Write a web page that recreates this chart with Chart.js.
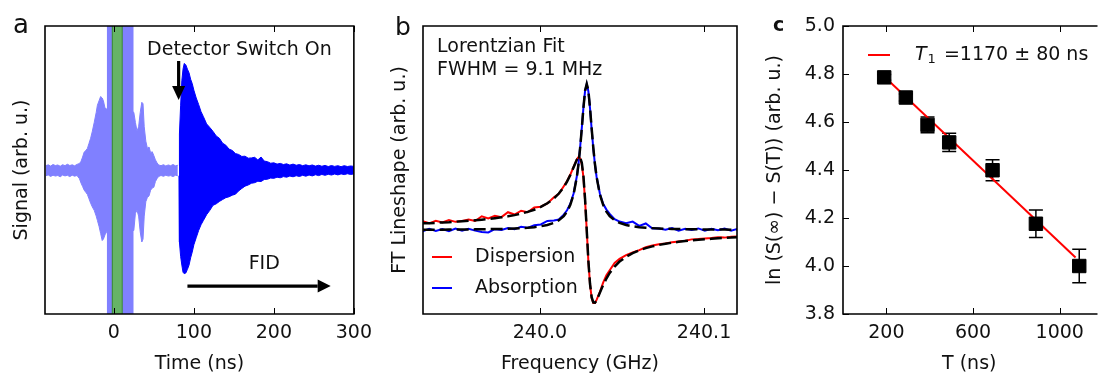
<!DOCTYPE html>
<html>
<head>
<meta charset="utf-8">
<script src="https://cdn.jsdelivr.net/npm/chart.js@4.4.1/dist/chart.umd.min.js"></script>
<style>
html, body { margin: 0; padding: 0; background: #fff; }
body { width: 1106px; height: 376px; position: relative; overflow: hidden; }
canvas { position: absolute; top: 0; }
#ca { left: 0; }
#cb { left: 372px; }
#cc { left: 748px; }
</style>
</head>
<body>
<canvas id="ca" width="380" height="376"></canvas>
<canvas id="cb" width="372" height="376"></canvas>
<canvas id="cc" width="358" height="376"></canvas>
<script>
// ---- panel a: time-domain signal (envelopes, arb. units)
const pulseT = [-85,-82,-79,-76,-73,-70,-67,-64,-61,-58,
  -55,-52,-49,-46,-43,-41,-39,-37,-35,-33,
  -31,-29,-27,-24.5,-22,-20.5,-18.5,-16.5,-14.5,-13,
  -11,-8,0,10,20,25,27,29,31,33,
  35,36.5,38,40,42,44,46,48,50,52,
  54,56,59,62,65,68,71,74,77,80];
const pulseUp = [.030,.036,.027,.038,.031,.035,.026,.037,.030,.040,
  .031,.036,.029,.039,.045,.060,.090,.125,.135,.150,
  .185,.220,.265,.330,.400,.450,.480,.510,.500,.480,
  .430,.420,.420,.420,.420,.400,.330,.270,.300,.400,
  .470,.460,.300,.200,.150,.160,.120,.127,.100,.070,
  .050,.035,.030,.037,.028,.035,.030,.038,.029,.033];
const pulseLo = [-.040,-.034,-.045,-.036,-.042,-.038,-.047,-.035,-.041,-.037,
  -.046,-.036,-.043,-.038,-.060,-.090,-.115,-.140,-.155,-.170,
  -.200,-.230,-.255,-.280,-.320,-.350,-.390,-.440,-.490,-.480,
  -.450,-.420,-.420,-.420,-.420,-.420,-.300,-.280,-.320,-.430,
  -.500,-.480,-.320,-.220,-.190,-.180,-.140,-.125,-.120,-.080,
  -.060,-.045,-.038,-.044,-.036,-.042,-.039,-.046,-.037,-.040];

const fidT = [81.5,82,83.5,85,86.5,88,90,92,94,96,
  98,100,103,106,109,112,116,120,
  124,128,132,136,140,144,148,152,156,160,
  164,168,172,176,180,184,188,192,196,200,
  204,208,212,216,220,224,228,232,236,240,
  244,248,252,256,260,264,268,272,276,280,
  284,288,292,296,300];
const fidUp = [.030,.250,.450,.620,.700,.740,.730,.700,.675,.630,
  .600,.555,.500,.455,.405,.370,.320,.295,
  .268,.236,.220,.186,.172,.145,.136,.114,.108,.094,
  .096,.082,.084,.088,.070,.090,.062,.058,.047,.050,
  .041,.046,.038,.043,.034,.041,.033,.038,.030,.036,
  .029,.035,.027,.033,.026,.032,.024,.031,.025,.030,
  .023,.030,.024,.028,.025];
const fidLo = [-.040,-.500,-.600,-.660,-.710,-.720,-.715,-.690,-.660,-.610,
  -.570,-.520,-.470,-.420,-.380,-.350,-.310,-.280,
  -.245,-.235,-.218,-.205,-.192,-.186,-.175,-.168,-.145,-.128,
  -.112,-.104,-.092,-.088,-.078,-.080,-.066,-.064,-.056,-.058,
  -.050,-.054,-.046,-.050,-.042,-.047,-.040,-.045,-.037,-.043,
  -.035,-.041,-.033,-.039,-.031,-.037,-.030,-.035,-.028,-.034,
  -.027,-.032,-.026,-.031,-.027];

const probeWindow = [-8.6, 24.6];   // ns
const pumpWindow = [-2.5, 11.1];    // ns
const timeTicks = [0, 100, 200, 300];

// ---- panel b: FT lineshape
const freqGHz = [239.9285,239.9325,239.9365,239.9405,239.9445,239.9485,239.9525,239.9565,239.9605,239.9645,
  239.9685,239.9725,239.9765,239.9805,239.9845,239.9885,239.9925,239.9965,240.0005,240.0045,
  240.0085,240.0115,240.0145,240.0165,240.0185,240.0205,240.0225,240.0235,240.0245,240.0255,
  240.0265,240.0275,240.0285,240.0295,240.0305,240.0315,240.0325,240.0335,240.0345,240.0365,
  240.0385,240.0405,240.0425,240.0455,240.0485,240.0525,240.0565,240.0605,240.0645,240.0685,
  240.0725,240.0765,240.0805,240.0845,240.0885,240.0925,240.0965,240.1005,240.1045,240.1085,
  240.1125,240.1165,240.1205];
const dispersion = [.060,.046,.064,.052,.068,.056,.062,.072,.062,.094,
  .080,.098,.088,.122,.106,.132,.122,.154,.160,.182,
  .225,.248,.300,.335,.380,.432,.485,.500,.490,.450,
  .360,.200,.000,-.215,-.370,-.465,-.500,-.500,-.478,-.425,
  -.360,-.310,-.275,-.225,-.198,-.172,-.154,-.138,-.118,-.106,
  -.098,-.092,-.084,-.078,-.074,-.064,-.062,-.058,-.055,-.050,
  -.052,-.046,-.044];
const absorption = [-.008,.008,-.006,.006,-.008,.010,-.005,.008,-.004,-.014,
  -.017,.006,.000,.014,.006,.022,.015,.032,.038,.062,
  .065,.072,.105,.135,.180,.250,.370,.455,.570,.700,
  .840,.955,1.0,.950,.835,.690,.560,.450,.365,.250,
  .180,.140,.110,.075,.058,.046,.058,.028,.045,.010,
  .010,.002,.014,-.004,.008,.000,.011,-.005,.009,-.001,
  .010,-.004,.008];
const dispersionFit = [.046,.047,.049,.052,.054,.057,.060,.063,.067,.071,
  .075,.081,.087,.094,.102,.112,.124,.139,.158,.183,
  .216,.250,.294,.332,.377,.430,.482,.498,.496,.460,
  .368,.210,0,-.210,-.368,-.460,-.496,-.498,-.482,-.430,
  -.377,-.332,-.294,-.250,-.216,-.183,-.158,-.139,-.124,-.112,
  -.102,-.094,-.087,-.081,-.075,-.071,-.067,-.063,-.060,-.057,
  -.054,-.052,-.049];
const absorptionFit = [.002,.0022,.0024,.0027,.0029,.003,.0036,.004,.0045,.005,
  .006,.0066,.0076,.0089,.0106,.013,.0157,.0198,.0257,.0347,
  .049,.0668,.0955,.126,.172,.244,.365,.453,.564,.697,
  .838,.954,1,.954,.838,.697,.564,.453,.365,.244,
  .172,.126,.0955,.0668,.049,.0347,.0257,.0198,.0157,.013,
  .0106,.0089,.0076,.0066,.006,.005,.0045,.004,.0036,.003,
  .0029,.0027,.0024];
const freqTicks = [240.0, 240.1];

// ---- panel c: T1 recovery
const delayNs = [190, 290, 390, 490, 690, 890, 1090];
const lnSignal = [4.786, 4.702, 4.588, 4.515, 4.399, 4.176, 4.000];
const lnError = [0.012, 0.015, 0.033, 0.038, 0.044, 0.057, 0.070];
const fitNs = [190, 1073];
const fitLn = [4.790, 4.035];
const delayTicks = [200, 600, 1000];
const lnTicks = [3.8, 4.0, 4.2, 4.4, 4.6, 4.8, 5.0];

const FONT = '"DejaVu Sans", sans-serif';
Chart.defaults.font.family = FONT;
Chart.defaults.font.size = 19;
Chart.defaults.color = '#111';
Chart.defaults.animation = false;
Chart.defaults.plugins.legend.display = false;
Chart.defaults.plugins.tooltip.enabled = false;

function pts(xs, ys) {
  return xs.map((x, i) => ({x: x, y: ys[i]}));
}

function xAxis(min, max, ticks, title, fmt) {
  return {
    type: 'linear', position: 'bottom', min: min, max: max,
    afterBuildTicks: s => { s.ticks = ticks.map(v => ({value: v})); },
    afterFit: s => { s.height = 62; },
    grid: {display: false, drawTicks: false},
    border: {display: false},
    ticks: {padding: 8, maxRotation: 0, autoSkip: false, callback: fmt},
    title: {display: true, text: title, padding: {top: 0, bottom: 1}}
  };
}

function yAxis(min, max, width, title, titlePad, ticks) {
  const ax = {
    type: 'linear', min: min, max: max,
    afterFit: s => { s.width = width; },
    grid: {display: false, drawTicks: false},
    border: {display: false},
    ticks: {display: false},
    title: {display: true, text: title, padding: {top: titlePad, bottom: 0}}
  };
  if (ticks) {
    ax.afterBuildTicks = s => { s.ticks = ticks.map(v => ({value: v})); };
    ax.ticks = {display: true, padding: 8, callback: v => v.toFixed(1)};
  }
  return ax;
}

// frame with inward ticks, like the original figure
function drawFrame(chart, yTicks, openRight) {
  const {ctx, chartArea: a, scales: {x, y}} = chart;
  ctx.save();
  ctx.strokeStyle = '#000';
  ctx.lineWidth = 1;
  ctx.beginPath();
  x.ticks.forEach(t => {
    const px = Math.round(x.getPixelForValue(t.value)) + 0.5;
    ctx.moveTo(px, a.bottom); ctx.lineTo(px, a.bottom - 6);
    ctx.moveTo(px, a.top); ctx.lineTo(px, a.top + 6);
  });
  if (yTicks) {
    y.ticks.forEach(t => {
      const py = Math.round(y.getPixelForValue(t.value)) + 0.5;
      ctx.moveTo(a.left, py); ctx.lineTo(a.left + 6, py);
    });
  }
  ctx.stroke();
  ctx.lineWidth = 1.6;
  ctx.beginPath();
  if (openRight) {
    ctx.moveTo(a.right + 2, a.top); ctx.lineTo(a.left, a.top);
    ctx.lineTo(a.left, a.bottom); ctx.lineTo(a.right + 2, a.bottom);
  } else {
    ctx.rect(a.left, a.top, a.right - a.left, a.bottom - a.top);
  }
  ctx.stroke();
  ctx.restore();
}

function arrow(ctx, x0, y0, x1, y1, head, halfW, lw) {
  const ang = Math.atan2(y1 - y0, x1 - x0);
  const bx = x1 - head * Math.cos(ang), by = y1 - head * Math.sin(ang);
  ctx.lineWidth = lw;
  ctx.beginPath(); ctx.moveTo(x0, y0); ctx.lineTo(bx, by); ctx.stroke();
  ctx.beginPath();
  ctx.moveTo(x1, y1);
  ctx.lineTo(bx + halfW * Math.sin(ang), by - halfW * Math.cos(ang));
  ctx.lineTo(bx - halfW * Math.sin(ang), by + halfW * Math.cos(ang));
  ctx.closePath(); ctx.fill();
}

function letter(ctx, txt, x, y, font) {
  ctx.save();
  ctx.font = font; ctx.fillStyle = '#111';
  ctx.textAlign = 'left'; ctx.textBaseline = 'alphabetic';
  ctx.fillText(txt, x, y);
  ctx.restore();
}

function envelope(xs, up, lo, color) {
  return [
    {data: pts(xs, up), borderColor: color, borderWidth: 1, pointRadius: 0, tension: 0, fill: false},
    {data: pts(xs, lo), borderColor: color, borderWidth: 1, pointRadius: 0, tension: 0, fill: '-1', backgroundColor: color}
  ];
}

// ---------------- panel a
new Chart(document.getElementById('ca'), {
  type: 'line',
  data: {datasets: [].concat(envelope(pulseT, pulseUp, pulseLo, '#8080ff'), envelope(fidT, fidUp, fidLo, '#0000ff'))},
  options: {
    responsive: false,
    layout: {padding: {top: 26, right: 21, left: 0, bottom: 0}},
    scales: {
      x: xAxis(-86, 300, timeTicks, 'Time (ns)', v => String(v)),
      y: yAxis(-1, 1, 45, 'Signal (arb. u.)', 10.6)
    }
  },
  plugins: [{
    id: 'decoA',
    afterDraw(chart) {
      const {ctx, chartArea: a, scales: {x, y}} = chart;
      ctx.save();
      const span = (w, fill) => {
        const x0 = x.getPixelForValue(w[0]), x1 = x.getPixelForValue(w[1]);
        ctx.fillStyle = fill;
        ctx.fillRect(x0, a.top, x1 - x0, a.bottom - a.top);
        return [x0, x1];
      };
      span(probeWindow, '#8080ff');
      const g = span(pumpWindow, '#66b366');
      ctx.strokeStyle = 'rgba(0,80,0,0.45)'; ctx.lineWidth = 1;
      ctx.beginPath();
      ctx.moveTo(g[0] + 0.5, a.top); ctx.lineTo(g[0] + 0.5, a.bottom);
      ctx.moveTo(g[1] - 0.5, a.top); ctx.lineTo(g[1] - 0.5, a.bottom);
      ctx.stroke();
      ctx.fillStyle = '#000'; ctx.strokeStyle = '#000';
      arrow(ctx, x.getPixelForValue(81), y.getPixelForValue(0.757), x.getPixelForValue(81), y.getPixelForValue(0.486), 14, 6.5, 3.2);
      arrow(ctx, x.getPixelForValue(92), y.getPixelForValue(-0.806), x.getPixelForValue(271), y.getPixelForValue(-0.806), 13, 6.5, 3.2);
      ctx.font = '19px ' + FONT; ctx.fillStyle = '#111';
      ctx.textAlign = 'center'; ctx.textBaseline = 'middle';
      ctx.fillText('Detector Switch On', x.getPixelForValue(157), y.getPixelForValue(0.833));
      ctx.fillText('FID', x.getPixelForValue(188), y.getPixelForValue(-0.653));
      ctx.restore();
      drawFrame(chart, false, false);
      letter(ctx, 'a', 13, 33, '26px ' + FONT);
    }
  }]
});

// ---------------- panel b
new Chart(document.getElementById('cb'), {
  type: 'line',
  data: {
    datasets: [
      {data: pts(freqGHz, dispersionFit), borderColor: '#000', borderWidth: 2.5, borderDash: [12, 5], pointRadius: 0, tension: 0},
      {data: pts(freqGHz, absorptionFit), borderColor: '#000', borderWidth: 2.5, borderDash: [12, 5], pointRadius: 0, tension: 0},
      {data: pts(freqGHz, dispersion), borderColor: '#ff0000', borderWidth: 2, pointRadius: 0, tension: 0},
      {data: pts(freqGHz, absorption), borderColor: '#0000ff', borderWidth: 2, pointRadius: 0, tension: 0}
    ]
  },
  options: {
    responsive: false,
    layout: {padding: {top: 26, right: 7, left: 0, bottom: 0}},
    scales: {
      x: xAxis(239.9287, 240.1201, freqTicks, 'Frequency (GHz)', v => v.toFixed(1)),
      y: yAxis(-0.575, 1.397, 51, 'FT Lineshape (arb. u.)', 16.6)
    }
  },
  plugins: [{
    id: 'decoB',
    afterDraw(chart) {
      const {ctx, chartArea: a} = chart;
      ctx.save();
      ctx.font = '19px ' + FONT; ctx.fillStyle = '#111';
      ctx.textAlign = 'left'; ctx.textBaseline = 'middle';
      ctx.fillText('Lorentzian Fit', a.left + 14, a.top + 21);
      ctx.fillText('FWHM = 9.1 MHz', a.left + 14, a.top + 44);
      const rows = [['Dispersion', '#ff0000', 231], ['Absorption', '#0000ff', 262]];
      rows.forEach(r => {
        ctx.strokeStyle = r[1]; ctx.lineWidth = 2;
        ctx.beginPath(); ctx.moveTo(a.left + 9, a.top + r[2]); ctx.lineTo(a.left + 29, a.top + r[2]); ctx.stroke();
        ctx.fillText(r[0], a.left + 52, a.top + r[2]);
      });
      ctx.restore();
      drawFrame(chart, false, false);
      letter(ctx, 'b', 23, 35, '25px ' + FONT);
    }
  }]
});

// ---------------- panel c
new Chart(document.getElementById('cc'), {
  type: 'scatter',
  data: {
    datasets: [
      {data: pts(delayNs, lnSignal), pointStyle: 'rect', pointRadius: 9.5, borderWidth: 1, backgroundColor: '#000', borderColor: '#000', showLine: false},
      {data: pts(fitNs, fitLn), borderColor: '#ff0000', borderWidth: 2, pointRadius: 0, showLine: true}
    ]
  },
  options: {
    responsive: false,
    layout: {padding: {top: 26, right: 0, left: 0, bottom: 0}},
    scales: {
      x: xAxis(0, 1165, delayTicks, 'T (ns)', v => String(v)),
      y: yAxis(3.8, 5.0, 95, 'ln (S(\u221e) \u2212 S(T)) (arb. u.)', 15.6, lnTicks)
    }
  },
  plugins: [{
    id: 'decoC',
    beforeDatasetsDraw(chart) {
      const {ctx, scales: {x, y}} = chart;
      ctx.save();
      ctx.strokeStyle = '#000'; ctx.lineWidth = 1.5;
      ctx.beginPath();
      delayNs.forEach((t, i) => {
        const px = x.getPixelForValue(t);
        const lo = y.getPixelForValue(lnSignal[i] - lnError[i]);
        const hi = y.getPixelForValue(lnSignal[i] + lnError[i]);
        ctx.moveTo(px, lo); ctx.lineTo(px, hi);
        ctx.moveTo(px - 7, lo); ctx.lineTo(px + 7, lo);
        ctx.moveTo(px - 7, hi); ctx.lineTo(px + 7, hi);
      });
      ctx.stroke();
      ctx.restore();
    },
    afterDraw(chart) {
      const {ctx, chartArea: a} = chart;
      ctx.save();
      const ly = a.top + 29;
      ctx.strokeStyle = '#ff0000'; ctx.lineWidth = 2;
      ctx.beginPath(); ctx.moveTo(a.left + 25, ly); ctx.lineTo(a.left + 47, ly); ctx.stroke();
      ctx.fillStyle = '#111'; ctx.textAlign = 'left'; ctx.textBaseline = 'middle';
      let px = a.left + 72;
      ctx.font = 'italic 19px ' + FONT;
      ctx.fillText('T', px, ly);
      px += ctx.measureText('T').width + 1;
      ctx.font = '13px ' + FONT;
      ctx.fillText('1', px, ly + 5);
      px += ctx.measureText('1').width + 8;
      ctx.font = '19px ' + FONT;
      ctx.fillText('=1170 \u00b1 80 ns', px, ly);
      ctx.restore();
      drawFrame(chart, true, true);
      letter(ctx, 'c', 25, 31, 'bold 19px ' + FONT);
    }
  }]
});
</script>
</body>
</html>
